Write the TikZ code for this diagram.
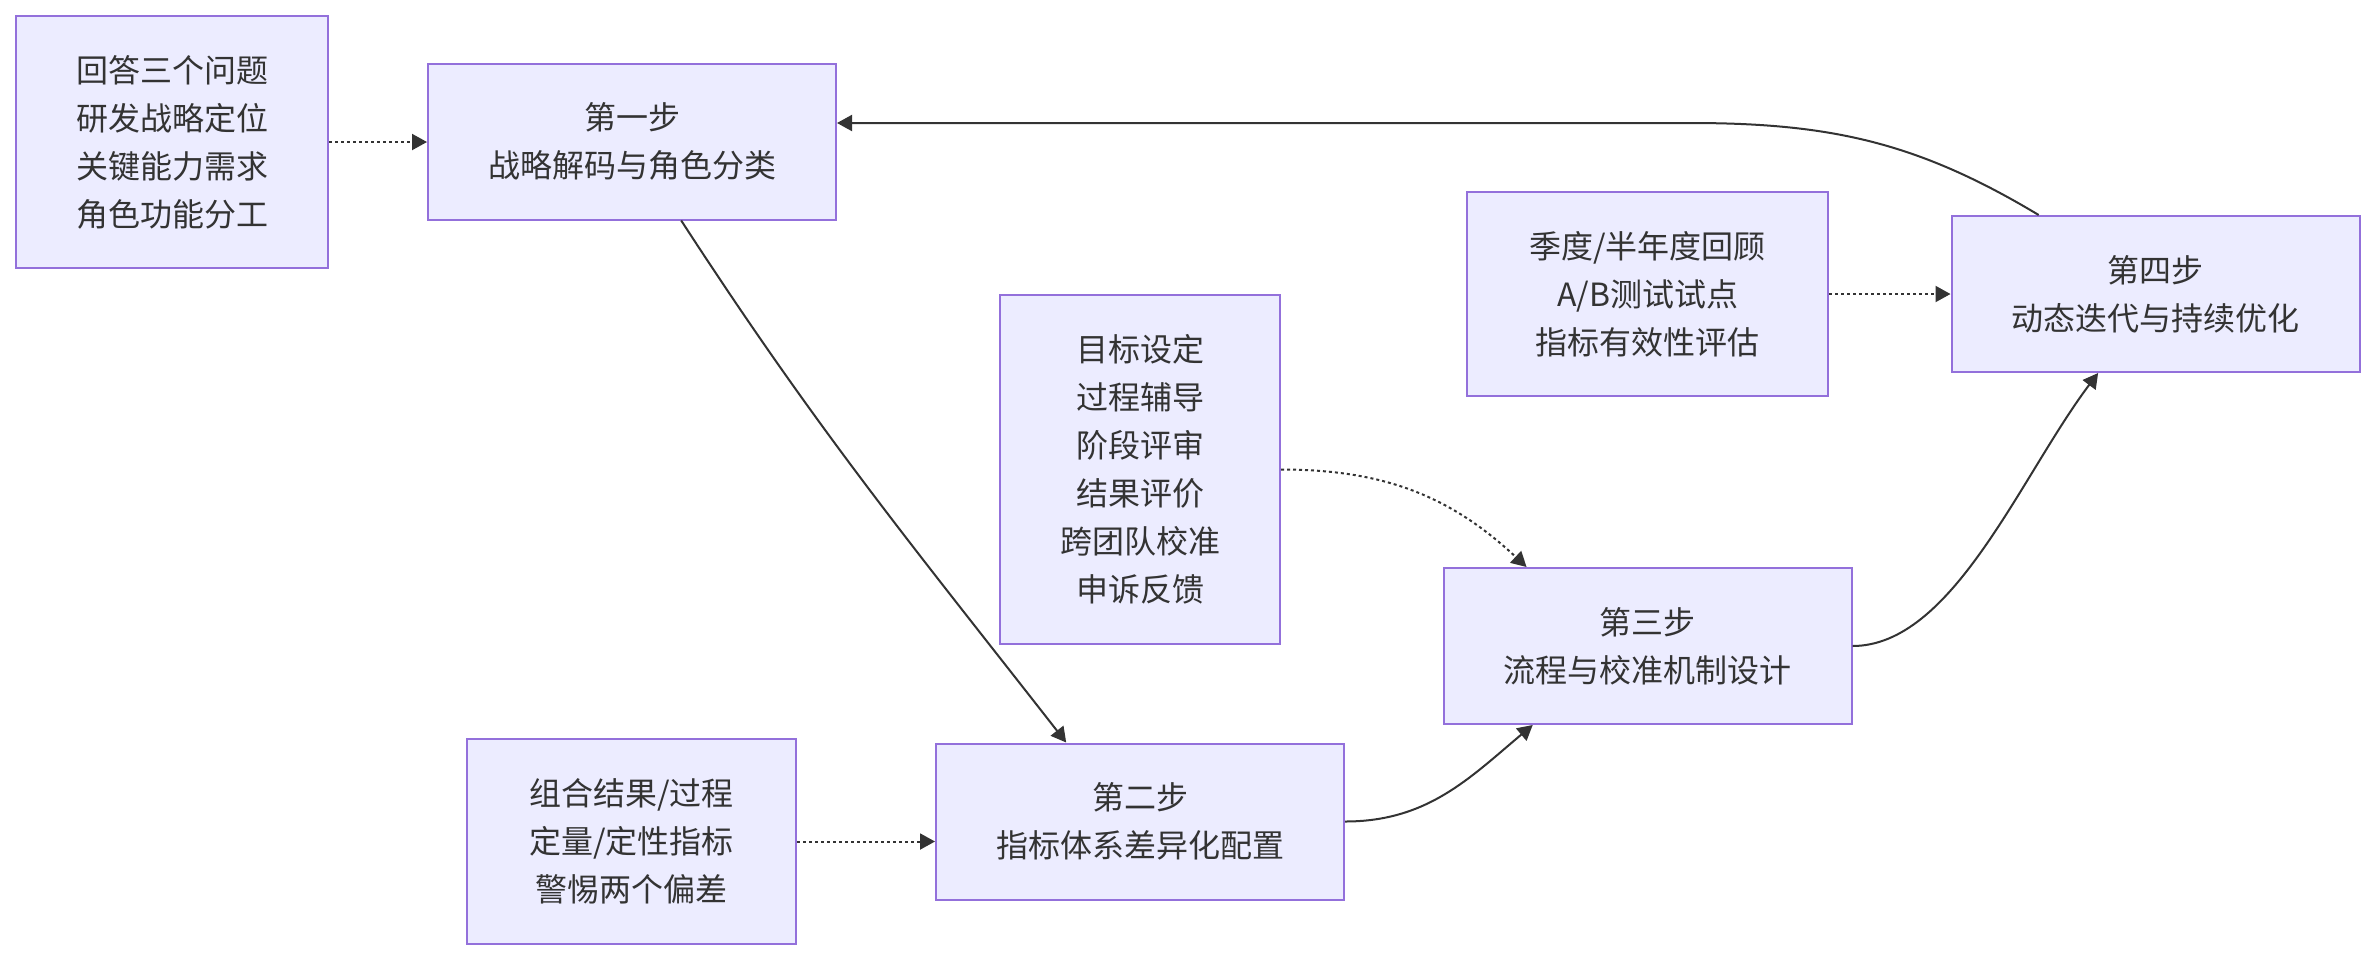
\documentclass[tikz,border=0pt]{standalone}
\usepackage{fontspec}
\setmainfont{Noto Sans CJK SC}
\usepackage{xcolor}
\usetikzlibrary{arrows.meta, positioning, calc}
\definecolor{boxfill}{HTML}{ECECFF}
\definecolor{boxline}{HTML}{9370DB}
\definecolor{ink}{HTML}{333333}

\begin{document}
\begin{tikzpicture}[
    x=0.5pt, y=0.5pt,
    box/.style={rectangle, draw=boxline, fill=boxfill, line width=1pt, align=center, text=ink, inner sep=0pt, font=\fontsize{16}{24}\selectfont},
    stepbox/.style={box, minimum width=204pt, minimum height=78pt},
    arr/.style={-{Triangle[length=7.5pt,width=8pt]}, line width=1pt, draw=ink},
    dotarr/.style={arr, dash pattern=on 1.5pt off 1.5pt}
]
\useasboundingbox (0,0) rectangle (2376,-960);

% Steps
\node[stepbox] (s1) at (632,-141.5) {第一步\\战略解码与角色分类};
\node[stepbox] (s2) at (1140,-821.5) {第二步\\指标体系差异化配置};
\node[stepbox] (s3) at (1647.5,-646) {第三步\\流程与校准机制设计};
\node[stepbox] (s4) at (2155.5,-294) {第四步\\动态迭代与持续优化};

% Notes
\node[box, minimum width=156pt, minimum height=126pt] (wenti) at (172,-142) {回答三个问题\\研发战略定位\\关键能力需求\\角色功能分工};
\node[box, minimum width=164.5pt, minimum height=102.5pt] (zuhe) at (631.5,-841.5) {组合结果/过程\\定量/定性指标\\警惕两个偏差};
\node[box, minimum width=140pt, minimum height=174.5pt] (mubiao) at (1140,-469.5) {目标设定\\过程辅导\\阶段评审\\结果评价\\跨团队校准\\申诉反馈};
\node[box, minimum width=180.5pt, minimum height=102pt] (huigu) at (1647.5,-294) {季度/半年度回顾\\A/B测试试点\\指标有效性评估};

% Notes to steps
\draw[dotarr] (wenti.east) -- (s1.west |- wenti.east);
\draw[dotarr] (zuhe.east) -- (s2.west |- zuhe.east);
\draw[dotarr] (mubiao.east) to[out=0,in=137] ($(s3.north west)!0.205!(s3.north east)$);
\draw[dotarr] (huigu.east) -- (s4.west);

% Step flow
\draw[arr] ($(s1.south west)!0.62!(s1.south east)$) to[out=-57,in=128] ($(s2.north west)!0.32!(s2.north east)$);
\draw[arr] (s2.east) to[out=0,in=-140] ($(s3.south west)!0.22!(s3.south east)$);
\draw[arr] (s3.east) to[out=0,in=-127,out looseness=0.7,in looseness=0.9] ($(s4.south west)!0.36!(s4.south east)$);
\coordinate (back) at (1690,-123);
\draw[arr] ($(s4.north west)!0.215!(s4.north east)$) to[out=149,in=0] (back) -- (s1.east |- back);
\end{tikzpicture}
\end{document}
